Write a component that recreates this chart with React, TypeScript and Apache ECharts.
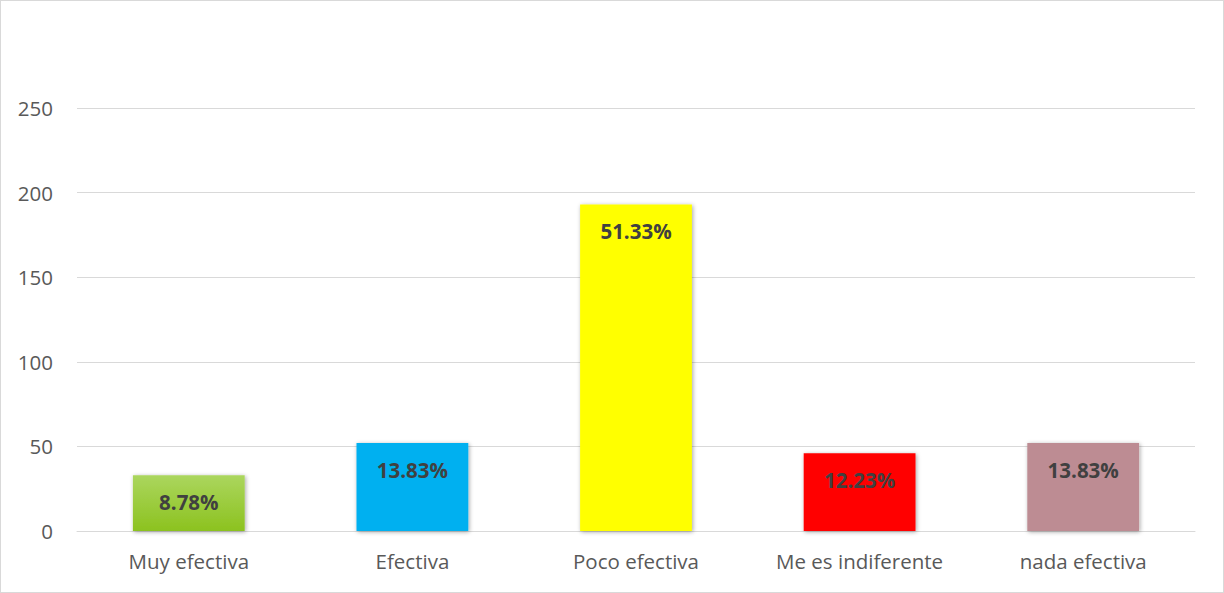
import React, { useEffect, useRef } from "react";
import * as echarts from "echarts";

const categories = ["Muy efectiva", "Efectiva", "Poco efectiva", "Me es indiferente", "nada efectiva"];
const counts = [33, 52, 193, 46, 52];
const percentLabels = ["8.78%", "13.83%", "51.33%", "12.23%", "13.83%"];
const yTicks = { min: 0, max: 250, interval: 50 };

export default function App() {
  const ref = useRef<HTMLDivElement>(null);
  useEffect(() => {
    document.body.style.margin = "0";
    const chart = echarts.init(ref.current!, null, { renderer: "svg" });
    const colors: any[] = [
      new echarts.graphic.LinearGradient(0, 0, 0, 1, [
        { offset: 0, color: "#abd65e" },
        { offset: 1, color: "#8cc21f" },
      ]),
      "#00B0F0",
      "#FFFF00",
      "#FF0000",
      "#BD8C93",
    ];
    chart.setOption({
      animation: false,
      textStyle: { fontFamily: "Open Sans" },
      grid: { left: 76, right: 28, top: 107, bottom: 61, containLabel: false },
      xAxis: {
        type: "category",
        data: categories,
        axisLine: { lineStyle: { color: "#d9d9d9", width: 1 } },
        axisTick: { show: false },
        axisLabel: { color: "#595959", fontSize: 20.5, margin: 19 },
      },
      yAxis: {
        type: "value",
        min: yTicks.min,
        max: yTicks.max,
        interval: yTicks.interval,
        axisLine: { show: false },
        axisTick: { show: false },
        splitLine: { lineStyle: { color: "#d9d9d9", width: 1 } },
        axisLabel: { color: "#595959", fontSize: 20.5, margin: 24 },
      },
      series: [
        {
          type: "bar",
          barWidth: "50%",
          data: counts.map((v, i) => ({
            value: v,
            itemStyle: {
              color: colors[i],
              shadowBlur: 4,
              shadowColor: "rgba(0,0,0,0.35)",
              shadowOffsetX: 1,
              shadowOffsetY: 1,
            },
          })),
          label: {
            show: true,
            position: "insideTop",
            distance: 16,
            formatter: (p: any) => percentLabels[p.dataIndex],
            color: "#404040",
            fontSize: 20.5,
            fontWeight: "bold",
          },
        },
      ],
    });
    return () => chart.dispose();
  }, []);
  return (
    <div
      style={{
        width: 1224,
        height: 593,
        boxSizing: "border-box",
        border: "1px solid #d9d9d9",
        background: "#fff",
      }}
    >
      <div ref={ref} style={{ width: 1222, height: 591 }} />
    </div>
  );
}
